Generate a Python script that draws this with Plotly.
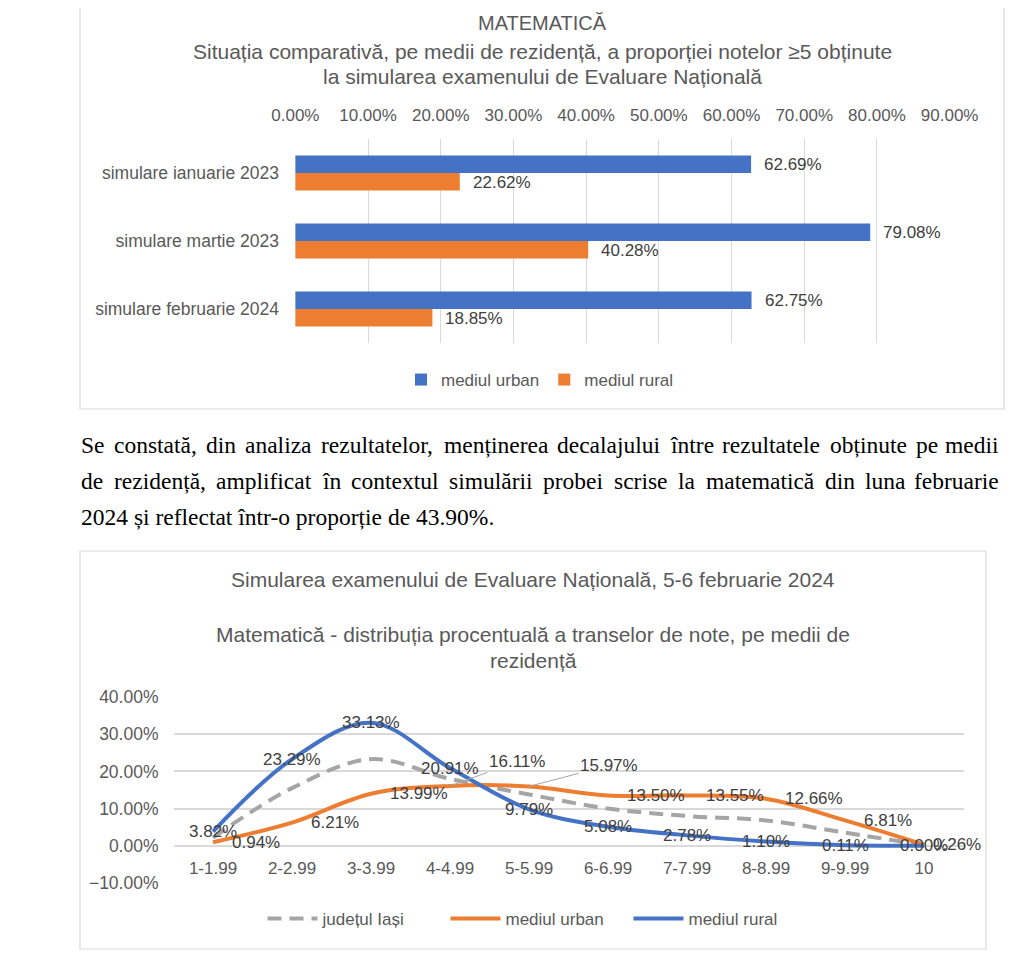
import plotly.graph_objects as go

# ---------------- data: chart 1 (bar) ----------------
sim_categories = ["simulare ianuarie 2023", "simulare martie 2023", "simulare februarie 2024"]
urban_pass = [0.6269, 0.7908, 0.6275]
rural_pass = [0.2262, 0.4028, 0.1885]
bar_ticks = [0.0, 0.1, 0.2, 0.3, 0.4, 0.5, 0.6, 0.7, 0.8, 0.9]

# ---------------- data: chart 2 (lines) ----------------
grade_bands = ["1-1.99", "2-2.99", "3-3.99", "4-4.99", "5-5.99",
               "6-6.99", "7-7.99", "8-8.99", "9-9.99", "10"]
judet_iasi = [0.022, 0.155, 0.233, 0.180, 0.138, 0.100, 0.080, 0.068, 0.035, 0.0015]
urban_dist = [0.0094, 0.0621, 0.1399, 0.1611, 0.1597, 0.1350, 0.1355, 0.1266, 0.0681, 0.0026]
rural_dist = [0.0382, 0.2329, 0.3313, 0.2091, 0.0979, 0.0508, 0.0278, 0.0110, 0.0011, 0.0000]
line_ticks = [-0.1, 0.0, 0.1, 0.2, 0.3, 0.4]

paragraph = [
    "Se constată, din analiza rezultatelor, menținerea decalajului între rezultatele obținute pe medii",
    "de rezidență, amplificat în contextul simulării probei scrise la matematică din luna februarie",
    "2024 și reflectat într-o proporție de 43.90%.",
]

W, H = 1024, 973
OX, OY = 8, 7  # page body offset
BLUE, ORANGE, GRAY = "#4472C4", "#ED7D31", "#A5A5A5"
TXT, LBL, GRID = "#595959", "#404040", "#D9D9D9"
SANS = "Liberation Sans, Arial, sans-serif"


def px(x):
    return (x - OX) / W


def py(y):
    return 1 - (y - OY) / H


fig = go.Figure()

# ---- bar chart ----
fig.add_trace(go.Bar(y=sim_categories, x=urban_pass, orientation="h", name="mediul urban",
                     marker=dict(color=BLUE, line=dict(width=0)), xaxis="x", yaxis="y",
                     legend="legend", hoverinfo="skip"))
fig.add_trace(go.Bar(y=sim_categories, x=rural_pass, orientation="h", name="mediul rural",
                     marker=dict(color=ORANGE, line=dict(width=0)), xaxis="x", yaxis="y",
                     legend="legend", hoverinfo="skip"))

# ---- line chart ----
fig.add_trace(go.Scatter(x=grade_bands, y=judet_iasi, mode="lines", name="județul Iași",
                         line=dict(color=GRAY, width=4, dash="14px,8px", shape="spline", smoothing=1),
                         xaxis="x2", yaxis="y2", legend="legend2", hoverinfo="skip"))
fig.add_trace(go.Scatter(x=grade_bands, y=urban_dist, mode="lines", name="mediul urban",
                         line=dict(color=ORANGE, width=4, shape="spline", smoothing=1),
                         xaxis="x2", yaxis="y2", legend="legend2", hoverinfo="skip"))
fig.add_trace(go.Scatter(x=grade_bands, y=rural_dist, mode="lines", name="mediul rural",
                         line=dict(color=BLUE, width=4, shape="spline", smoothing=1),
                         xaxis="x2", yaxis="y2", legend="legend2", hoverinfo="skip"))

annotations = []

# bar value labels
for cat, v in zip(sim_categories, urban_pass):
    annotations.append(dict(x=v, y=cat, xref="x", yref="y", text=f"{v*100:.2f}%", showarrow=False,
                            xanchor="left", yanchor="middle", xshift=11, yshift=9,
                            font=dict(family=SANS, size=17, color=LBL)))
for cat, v in zip(sim_categories, rural_pass):
    annotations.append(dict(x=v, y=cat, xref="x", yref="y", text=f"{v*100:.2f}%", showarrow=False,
                            xanchor="left", yanchor="middle", xshift=11, yshift=-9,
                            font=dict(family=SANS, size=17, color=LBL)))

# line value labels
for i, v in enumerate(rural_dist):
    annotations.append(dict(x=i, y=v, xref="x2", yref="y2", text=f"{v*100:.2f}%", showarrow=False,
                            xanchor="center", yanchor="middle",
                            font=dict(family=SANS, size=17, color=LBL)))
leader = {3: (67, -24), 4: (80, -21)}
for i, v in enumerate(urban_dist):
    if i in leader:
        ax, ay = leader[i]
        annotations.append(dict(x=i, y=v, xref="x2", yref="y2", text=f"{v*100:.2f}%", showarrow=True,
                                arrowhead=0, arrowwidth=1, arrowcolor="#A6A6A6", ax=ax, ay=ay,
                                standoff=0, font=dict(family=SANS, size=17, color=LBL)))
    else:
        annotations.append(dict(x=i, y=v, xref="x2", yref="y2", text=f"{v*100:.2f}%", showarrow=False,
                                xanchor="left", yanchor="middle", xshift=(7 if i == 9 else 17),
                                font=dict(family=SANS, size=17, color=LBL)))


# titles
def title(text, x, y, size):
    annotations.append(dict(x=px(x), y=py(y), xref="paper", yref="paper", text=text, showarrow=False,
                            xanchor="center", yanchor="middle", font=dict(family=SANS, size=size, color=TXT)))


title("MATEMATICĂ", 542, 22, 20)
title("Situația comparativă, pe medii de rezidență, a proporției notelor ≥5 obținute", 542, 50, 21)
title("la simularea examenului de Evaluare Națională", 542, 75, 21)
title("Simularea examenului de Evaluare Națională, 5-6 februarie 2024", 533, 578, 21)
title("Matematică - distribuția procentuală a transelor de note, pe medii de", 533, 633, 21)
title("rezidență", 533, 659, 21)

# paragraph (justified, word by word)
TIMES = {" ": 250, ",": 250, ".": 250, "-": 333, "%": 833,
         "a": 444, "b": 500, "c": 444, "d": 500, "e": 444, "f": 333, "g": 500, "h": 500, "i": 278,
         "j": 278, "k": 500, "l": 278, "m": 778, "n": 500, "o": 500, "p": 500, "q": 500, "r": 333,
         "s": 389, "t": 278, "u": 500, "v": 500, "w": 722, "x": 500, "y": 500, "z": 444,
         "ă": 444, "â": 444, "î": 278, "ș": 389, "ț": 278, "S": 556}
PSIZE = 23.5
SERIF = "Liberation Serif, Times New Roman, serif"


def tw(s):
    return sum(TIMES.get(ch, 500) for ch in s) / 1000 * PSIZE


line_y = [444, 480, 516]
for li, (line, yc) in enumerate(zip(paragraph, line_y)):
    if li < 2:
        words = line.split(" ")
        widths = [tw(w) for w in words]
        gap = (920 - sum(widths)) / (len(words) - 1)
        x = 80
        for k, (wd, wwid) in enumerate(zip(words, widths)):
            last = k == len(words) - 1
            annotations.append(dict(x=px(1000 if last else x), y=py(yc), xref="paper", yref="paper",
                                    text=wd, showarrow=False, xanchor="right" if last else "left",
                                    yanchor="middle", borderpad=0,
                                    font=dict(family=SERIF, size=PSIZE, color="#000000")))
            x += wwid + gap
    else:
        annotations.append(dict(x=px(80), y=py(yc), xref="paper", yref="paper", text=line,
                                showarrow=False, xanchor="left", yanchor="middle", borderpad=0,
                                font=dict(family=SERIF, size=PSIZE, color="#000000")))

shapes = [
    dict(type="rect", xref="paper", yref="paper", x0=px(80), x1=px(1004), y0=py(408), y1=1.05,
         line=dict(color=GRID, width=1.2), fillcolor="rgba(0,0,0,0)", layer="below"),
    dict(type="rect", xref="paper", yref="paper", x0=px(80), x1=px(986), y0=py(948), y1=py(550),
         line=dict(color=GRID, width=1.2), fillcolor="rgba(0,0,0,0)", layer="below"),
]

fig.update_layout(
    width=W, height=H, autosize=False,
    margin=dict(l=0, r=0, t=0, b=0, pad=0, autoexpand=False),
    paper_bgcolor="white", plot_bgcolor="white",
    barmode="group", bargap=0.485, bargroupgap=0,
    showlegend=True,
    font=dict(family=SANS, color=TXT),
    xaxis=dict(domain=[px(295), px(950)], range=[-0.0005, 0.9005], tickvals=bar_ticks, tickformat=".2%",
               side="top", anchor="y", showgrid=True, gridcolor=GRID, gridwidth=1, zeroline=False,
               showline=False, ticks="", ticklabelstandoff=14, tickfont=dict(family=SANS, size=17, color=TXT),
               automargin=False, fixedrange=True),
    yaxis=dict(domain=[py(342), py(138)], categoryorder="array", categoryarray=sim_categories,
               autorange="reversed", anchor="x", showgrid=False, zeroline=False, showline=False, ticks="",
               ticklabelstandoff=15, tickfont=dict(family=SANS, size=17.5, color=TXT), automargin=False,
               fixedrange=True),
    xaxis2=dict(domain=[px(173.5), px(963.5)], type="category", categoryorder="array",
                categoryarray=grade_bands, range=[-0.5, 9.5], anchor="free", position=py(845),
                showgrid=False, zeroline=False, showline=False, ticks="", ticklabelstandoff=10,
                tickfont=dict(family=SANS, size=17, color=TXT), automargin=False, fixedrange=True),
    yaxis2=dict(domain=[py(882), py(696)], range=[-0.1005, 0.4005], tickvals=line_ticks, tickformat=".2%",
                anchor="x2", showgrid=True, gridcolor=GRID, gridwidth=1.5, zeroline=False, showline=False,
                ticks="", ticklabelstandoff=14, tickfont=dict(family=SANS, size=17.5, color=TXT),
                automargin=False, fixedrange=True),
    legend=dict(orientation="h", x=px(540), xanchor="center", y=py(379), yanchor="middle",
                font=dict(family=SANS, size=17, color=TXT), bgcolor="rgba(0,0,0,0)", itemwidth=30,
                traceorder="normal"),
    legend2=dict(orientation="h", x=px(537), xanchor="center", y=py(918), yanchor="middle",
                 font=dict(family=SANS, size=17, color=TXT), bgcolor="rgba(0,0,0,0)", itemwidth=50,
                 entrywidth=118, entrywidthmode="pixels", traceorder="normal"),
    annotations=annotations,
    shapes=shapes,
)

fig.write_html("out.html", config={"responsive": False})
